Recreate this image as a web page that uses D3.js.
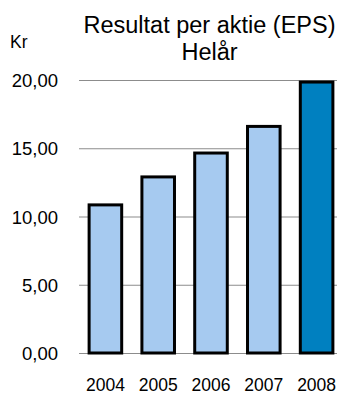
<!DOCTYPE html>
<html>
<head>
<meta charset="utf-8">
<script src="https://cdn.jsdelivr.net/npm/d3@7"></script>
<style>
  html, body { margin: 0; padding: 0; background: #fff; }
  svg { display: block; }
  text { font-family: "Liberation Sans", Arial, sans-serif; fill: #000; }
</style>
</head>
<body>
<svg id="chart" width="337" height="394"></svg>
<script>
// Earnings per share, full year (SEK)
const years = ["2004", "2005", "2006", "2007", "2008"];
const eps = [10.85, 12.9, 14.65, 16.6, 19.85];
const yTicks = [0, 5, 10, 15, 20];
const titleLines = ["Resultat per aktie (EPS)", "Helår"];
const unitLabel = "Kr";

const svg = d3.select("#chart");
const plot = { left: 79, right: 343, top: 80, bottom: 353 };
const font = "'Liberation Sans', Arial, sans-serif";

const x = d3.scaleBand()
  .domain(years)
  .range([plot.left, plot.right])
  .paddingInner(0.383)
  .paddingOuter(0.1915);

const y = d3.scaleLinear()
  .domain([0, 20])
  .range([plot.bottom, plot.top]);

const fmt = v => d3.format(".2f")(v).replace(".", ",");

// horizontal gridlines + y labels
const yAxis = d3.axisLeft(y)
  .tickValues(yTicks)
  .tickFormat(fmt)
  .tickSize(-(plot.right - plot.left))
  .tickPadding(21);

const gy = svg.append("g")
  .attr("transform", `translate(${plot.left},0)`)
  .call(yAxis)
  .attr("font-family", font)
  .attr("font-size", 18.5);
gy.select(".domain").remove();
gy.selectAll(".tick line").attr("stroke", "#8c8c8c").attr("stroke-width", 1.2);
gy.selectAll(".tick text").attr("dy", "0.36em").attr("fill", "#000");

// bars
svg.append("g").selectAll("rect")
  .data(years.map((yr, i) => ({ yr, v: eps[i], last: i === years.length - 1 })))
  .join("rect")
  .attr("x", d => x(d.yr))
  .attr("width", x.bandwidth())
  .attr("y", d => y(d.v))
  .attr("height", d => y(0) - y(d.v))
  .attr("fill", d => d.last ? "#0080c0" : "#a6caf0")
  .attr("stroke", "#000")
  .attr("stroke-width", 3);

// x labels
const xAxis = d3.axisBottom(x).tickSize(0).tickPadding(0);
const gx = svg.append("g")
  .attr("transform", `translate(0,${plot.bottom})`)
  .call(xAxis)
  .attr("font-family", font)
  .attr("font-size", 17.5);
gx.select(".domain").remove();
gx.selectAll(".tick text")
  .attr("y", 37.5)
  .attr("dy", 0)
  .attr("fill", "#000");

// title
svg.append("text")
  .attr("text-anchor", "middle")
  .attr("font-size", 23.5)
  .selectAll("tspan")
  .data(titleLines)
  .join("tspan")
  .attr("x", 209.5)
  .attr("y", (d, i) => 33 + i * 27)
  .text(d => d);

// unit label
svg.append("text")
  .attr("x", 10)
  .attr("y", 48)
  .attr("font-size", 17.5)
  .text(unitLabel);
</script>
</body>
</html>
